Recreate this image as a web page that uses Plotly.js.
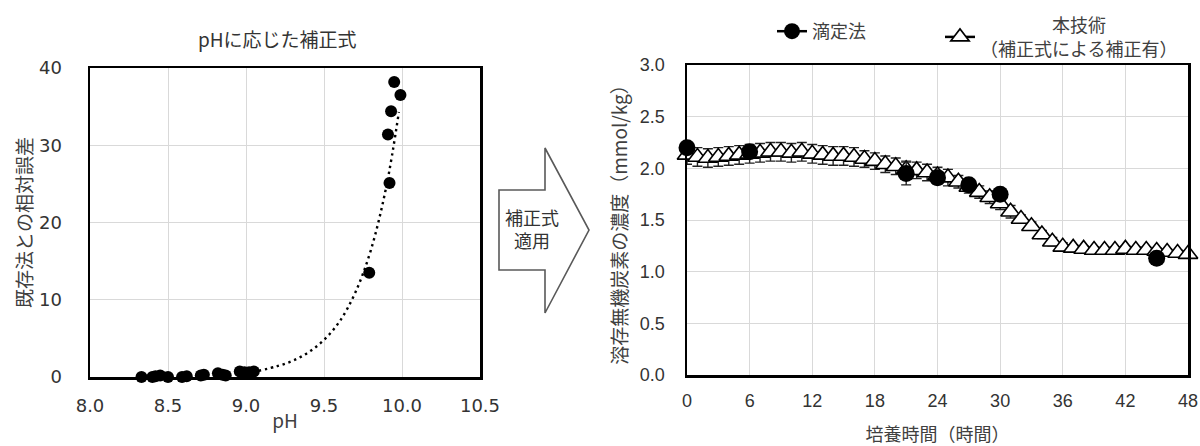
<!DOCTYPE html>
<html>
<head>
<meta charset="UTF-8">
<title>pH補正式と溶存無機炭素</title>
<script src="https://cdn.plot.ly/plotly-3.0.1.min.js"></script>
<style>
  body { margin: 0; background: #fff; }
  #chart { width: 1200px; height: 446px; }
</style>
</head>
<body>
<div id="chart"></div>
<script>
// left panel: relative error vs pH
const phValues  = [8.33, 8.37, 8.40, 8.42, 8.45, 8.50, 8.59, 8.62, 8.69, 8.71, 8.73, 8.82, 8.85, 8.87, 8.96, 8.99, 9.02, 9.05, 9.79, 9.92, 9.91, 9.93, 9.95, 9.99];
const relError  = [0, -0.1, 0, 0.1, 0.2, 0, 0, 0.1, -0.2, 0.2, 0.3, 0.5, 0.3, 0.2, 0.7, 0.6, 0.6, 0.7, 13.5, 25.1, 31.4, 34.4, 38.2, 36.5];
// dotted trend curve
const trendPh   = [9.08, 9.2, 9.3, 9.4, 9.5, 9.6, 9.7, 9.8, 9.9, 9.98];
const trendVal  = [0.8, 1.4, 2.1, 3.2, 4.8, 7.2, 10.9, 16.4, 24.7, 34.3];

// right panel: DIC over culture time
const hours = [0,1,2,3,4,5,6,7,8,9,10,11,12,13,14,15,16,17,18,19,20,21,22,23,24,
               25,26,27,28,29,30,31,32,33,34,35,36,37,38,39,40,41,42,43,44,45,46,47,48];
const techValues = [2.13,2.11,2.10,2.11,2.12,2.13,2.14,2.15,2.16,2.16,2.15,2.16,2.14,2.13,2.12,2.12,2.11,
                    2.09,2.07,2.04,2.02,1.99,1.98,1.96,1.93,1.91,1.87,1.82,1.77,1.72,1.66,1.58,1.51,
                    1.44,1.36,1.29,1.24,1.23,1.22,1.21,1.21,1.21,1.22,1.21,1.21,1.20,1.19,1.18,1.17];
const techErr = [0.09,0.09,0.09,0.09,0.09,0.09,0.09,0.09,0.09,0.09,0.09,0.09,0.09,0.09,0.09,0.09,0.09,
                 0.08,0.08,0.08,0.08,0.08,0.08,0.08,0.08,0.08,0.06,0.06,0.06,0.06,0.06,0.06,0.04,
                 0.04,0.04,0.04,0.04,0.03,0.03,0.03,0.03,0.03,0.03,0.03,0.03,0.03,0.03,0.03,0.03];
const titrHours  = [0, 6, 21, 24, 27, 30, 45];
const titrValues = [2.20, 2.16, 1.95, 1.91, 1.84, 1.75, 1.13];
const titrErr    = [0.03, 0.05, 0.11, 0.06, 0.04, 0.04, 0.03];

const W = 1200, H = 446;
const fx = x => x / W;
const fy = y => 1 - y / H;

const triMarker = { symbol: 'triangle-up', size: 17, color: '#fff', line: { color: '#000', width: 1.6 } };

const traces = [
  {
    x: phValues, y: relError, xaxis: 'x', yaxis: 'y',
    type: 'scatter', mode: 'markers', showlegend: false, cliponaxis: false,
    marker: { color: '#000', size: 12 }
  },
  {
    x: trendPh, y: trendVal, xaxis: 'x', yaxis: 'y',
    type: 'scatter', mode: 'lines', showlegend: false,
    line: { color: '#000', width: 2.4, dash: '2.4px,3.8px', shape: 'spline' }
  },
  {
    x: hours, y: techValues, xaxis: 'x2', yaxis: 'y2',
    type: 'scatter', mode: 'markers', showlegend: false, cliponaxis: false,
    marker: triMarker,
    error_y: { type: 'data', array: techErr, color: '#222', thickness: 1.4, width: 5 }
  },
  {
    x: titrHours, y: titrValues, xaxis: 'x2', yaxis: 'y2',
    type: 'scatter', mode: 'markers', showlegend: false, cliponaxis: false,
    marker: { size: 17, color: '#000' },
    error_y: { type: 'data', array: titrErr, color: '#222', thickness: 1.4, width: 5 }
  },
  // legend entries (line + marker like the original)
  {
    x: [null], y: [null], xaxis: 'x2', yaxis: 'y2', name: '滴定法', legend: 'legend',
    type: 'scatter', mode: 'lines+markers',
    line: { color: '#000', width: 2.5 }, marker: { size: 16, color: '#000' }
  },
  {
    x: [null], y: [null], xaxis: 'x2', yaxis: 'y2', legend: 'legend2',
    name: '\u3000\u3000\u3000\u3000本技術<br>（補正式による補正有）',
    type: 'scatter', mode: 'lines+markers',
    line: { color: '#000', width: 2.5 }, marker: triMarker
  }
];

const gridCol = '#d9d9d9';
const txt = '#404040';

// arrow between the panels
const arrowPx = [[499,190],[545,190],[545,148],[589,230],[545,313],[545,270],[499,270]];
const arrowPath = 'M' + arrowPx.map(p => fx(p[0]) + ',' + fy(p[1])).join('L') + 'Z';

const layout = {
  width: W, height: H,
  margin: { l: 0, r: 0, t: 0, b: 0 },
  paper_bgcolor: '#fff', plot_bgcolor: '#fff',
  font: { family: '"Noto Sans CJK JP", sans-serif', color: txt, size: 18 },
  xaxis: {
    domain: [fx(90), fx(480)], anchor: 'y',
    range: [8, 10.5], dtick: 0.5, tickformat: '.1f',
    showline: true, linecolor: '#000', linewidth: 2.5, mirror: true,
    showgrid: true, gridcolor: gridCol, zeroline: false,
    ticks: '', ticklabelstandoff: 11,
    tickfont: { family: '"DejaVu Sans", sans-serif', size: 18, color: '#333' },
    title: { text: 'pH', font: { size: 19, color: txt }, standoff: 0 }
  },
  yaxis: {
    domain: [fy(377), fy(68)], anchor: 'x',
    range: [0, 40], dtick: 10,
    showline: true, linecolor: '#000', linewidth: 2.5, mirror: true,
    showgrid: true, gridcolor: gridCol, zeroline: false,
    ticks: '', ticklabelstandoff: 22,
    tickfont: { family: '"DejaVu Sans", sans-serif', size: 18, color: '#333' },
    title: { text: '既存法との相対誤差', font: { size: 19, color: txt } }
  },
  xaxis2: {
    domain: [fx(687), fx(1188)], anchor: 'y2',
    range: [0, 48], dtick: 6,
    showline: true, linecolor: '#000', linewidth: 2.5, mirror: true,
    showgrid: true, gridcolor: gridCol, zeroline: false,
    ticks: '', ticklabelstandoff: 8,
    tickfont: { family: '"Liberation Sans", Arial, sans-serif', size: 18, color: '#333' },
    title: { text: '培養時間（時間）', font: { size: 18, color: txt } }
  },
  yaxis2: {
    domain: [fy(375), fy(65)], anchor: 'x2',
    range: [0, 3], dtick: 0.5, tickformat: '.1f',
    showline: true, linecolor: '#000', linewidth: 2.5, mirror: true,
    showgrid: true, gridcolor: gridCol, zeroline: false,
    ticks: '', ticklabelstandoff: 16,
    tickfont: { family: '"Liberation Sans", Arial, sans-serif', size: 18, color: '#333' },
    title: { text: '溶存無機炭素の濃度（mmol/kg）', font: { size: 19, color: txt }, standoff: 7 }
  },
  showlegend: true,
  legend: {
    orientation: 'h', x: fx(772), y: fy(13), xanchor: 'left', yanchor: 'top',
    valign: 'middle', font: { size: 18, color: txt }, bgcolor: 'rgba(0,0,0,0)'
  },
  legend2: {
    orientation: 'h', x: fx(940), y: fy(7), xanchor: 'left', yanchor: 'top',
    valign: 'middle', font: { size: 18, color: txt }, bgcolor: 'rgba(0,0,0,0)'
  },
  shapes: [
    { type: 'path', xref: 'paper', yref: 'paper', path: arrowPath,
      fillcolor: '#fff', line: { color: '#595959', width: 1.6 } }
  ],
  annotations: [
    { text: 'pHに応じた補正式', xref: 'paper', yref: 'paper', x: fx(277), y: fy(38),
      xanchor: 'center', yanchor: 'middle',
      showarrow: false, font: { size: 19, color: '#333' } },
    { text: '補正式<br>適用', xref: 'paper', yref: 'paper', x: fx(532), y: fy(228),
      xanchor: 'center', yanchor: 'middle',
      showarrow: false, font: { size: 18, color: '#333' } }
  ]
};

Plotly.newPlot('chart', traces, layout, { displayModeBar: false, staticPlot: true });
</script>
</body>
</html>
